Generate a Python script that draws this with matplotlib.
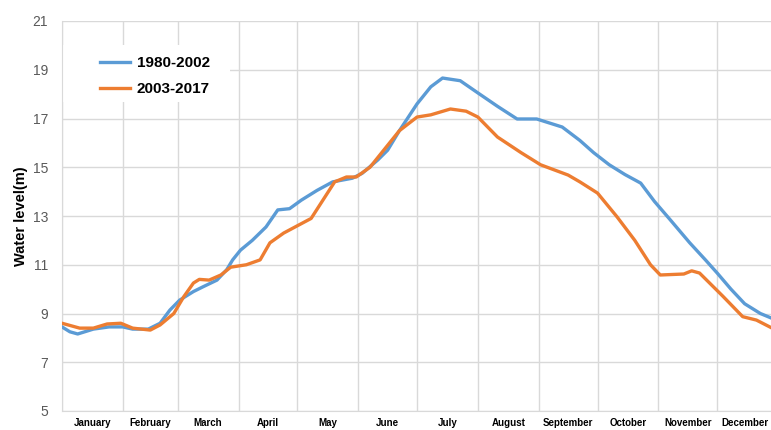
import numpy as np
import matplotlib
matplotlib.use("Agg")
import matplotlib.pyplot as plt
from matplotlib.patches import Rectangle

plt.rcParams["font.family"] = ["Liberation Sans", "DejaVu Sans"]

# --- data (day of year, water level in m) ---
months = ["January", "February", "March", "April", "May", "June",
          "July", "August", "September", "October", "November", "December"]
month_days = [31, 28, 31, 30, 31, 30, 31, 31, 30, 31, 30, 31]

day_a = [0, 4, 8, 16, 24, 31, 36, 44, 50, 55, 60, 67, 72, 79, 84, 87, 91,
         97, 104, 110, 116, 122, 130, 138, 148, 153, 161, 166, 172, 181,
         188, 194, 203, 212, 222, 232, 242, 255, 264, 271, 279, 287, 295,
         302, 310, 320, 328, 334, 341, 348, 356, 362]
level_a = [8.45, 8.25, 8.16, 8.36, 8.45, 8.45, 8.36, 8.36, 8.6, 9.14, 9.55,
           9.9, 10.1, 10.37, 10.8, 11.2, 11.6, 12.0, 12.55, 13.25, 13.3,
           13.65, 14.05, 14.4, 14.55, 14.75, 15.3, 15.7, 16.5, 17.6, 18.3,
           18.66, 18.55, 18.05, 17.5, 16.98, 16.98, 16.65, 16.1, 15.6, 15.1,
           14.7, 14.35, 13.6, 12.85, 11.9, 11.2, 10.66, 10.0, 9.4, 9.0, 8.8]

day_b = [0, 9, 16, 23, 30, 36, 45, 50, 57, 62, 67, 70, 75, 81, 86, 94, 101,
         106, 113, 120, 127, 133, 139, 145, 150, 157, 164, 172, 181, 188,
         198, 206, 212, 222, 234, 244, 258, 264, 273, 283, 292, 300, 305,
         317, 321, 325, 337, 347, 354, 362]
level_b = [8.6, 8.4, 8.4, 8.57, 8.6, 8.4, 8.32, 8.53, 9.0, 9.68, 10.25, 10.4,
           10.37, 10.58, 10.9, 11.0, 11.2, 11.9, 12.3, 12.6, 12.9, 13.65,
           14.4, 14.6, 14.6, 15.0, 15.7, 16.5, 17.06, 17.15, 17.39, 17.3,
           17.06, 16.24, 15.6, 15.1, 14.68, 14.4, 13.94, 12.96, 12.0, 11.0,
           10.58, 10.62, 10.75, 10.66, 9.7, 8.87, 8.73, 8.4]

label_a = "1980-2002"
label_b = "2003-2017"

# --- figure ---
W, H = 771, 430
fig = plt.figure(figsize=(W / 100, H / 100), dpi=100)
# axes runs a little past the right edge (December is cut in the original)
ax = fig.add_axes([62 / W, 19 / H, 716 / W, 390 / H])

grid_col = "#d9d9d9"
starts = np.concatenate([[0], np.cumsum(month_days)[:-1]])
mids = starts + np.array(month_days) / 2
mids[-1] = starts[-1] + 14  # label centred on visible part

ax.plot(day_a, level_a, color="#5b9bd5", lw=2.4, label=label_a, zorder=3)
ax.plot(day_b, level_b, color="#ed7d31", lw=2.4, label=label_b, zorder=3)

ax.set_xlim(0, 365)
ax.set_ylim(5, 21)
ax.set_yticks(np.arange(5, 22, 2))
ax.set_xticks(starts)
ax.set_xticklabels([])
ax.set_xticks(mids, minor=True)
ax.set_xticklabels(months, minor=True, fontsize=7, fontweight="bold")
ax.tick_params(axis="x", which="both", length=0, pad=5)
ax.tick_params(axis="y", length=0, pad=10, labelsize=10, labelcolor="#595959")
ax.grid(True, which="major", color=grid_col, lw=1)
ax.set_axisbelow(True)

for s in ["top", "right"]:
    ax.spines[s].set_visible(False)
for s in ["left", "bottom"]:
    ax.spines[s].set_color(grid_col)

ax.set_ylabel("Water level(m)", fontsize=10.5, fontweight="bold", labelpad=3)

# white patch behind the legend, like the original
ax.add_patch(Rectangle((63 / W, 1 - 102 / H), 167 / W, 57 / H,
                       transform=fig.transFigure, facecolor="white",
                       edgecolor="none", zorder=1))

leg = ax.legend(loc="upper left", bbox_to_anchor=(100 / W, 1 - 56 / H),
                bbox_transform=fig.transFigure, frameon=False,
                prop={"weight": "bold", "size": 11}, handlelength=1.95,
                handletextpad=0.45, borderpad=0, borderaxespad=0,
                labelspacing=0.8)

fig.savefig("out.png", dpi=100)
